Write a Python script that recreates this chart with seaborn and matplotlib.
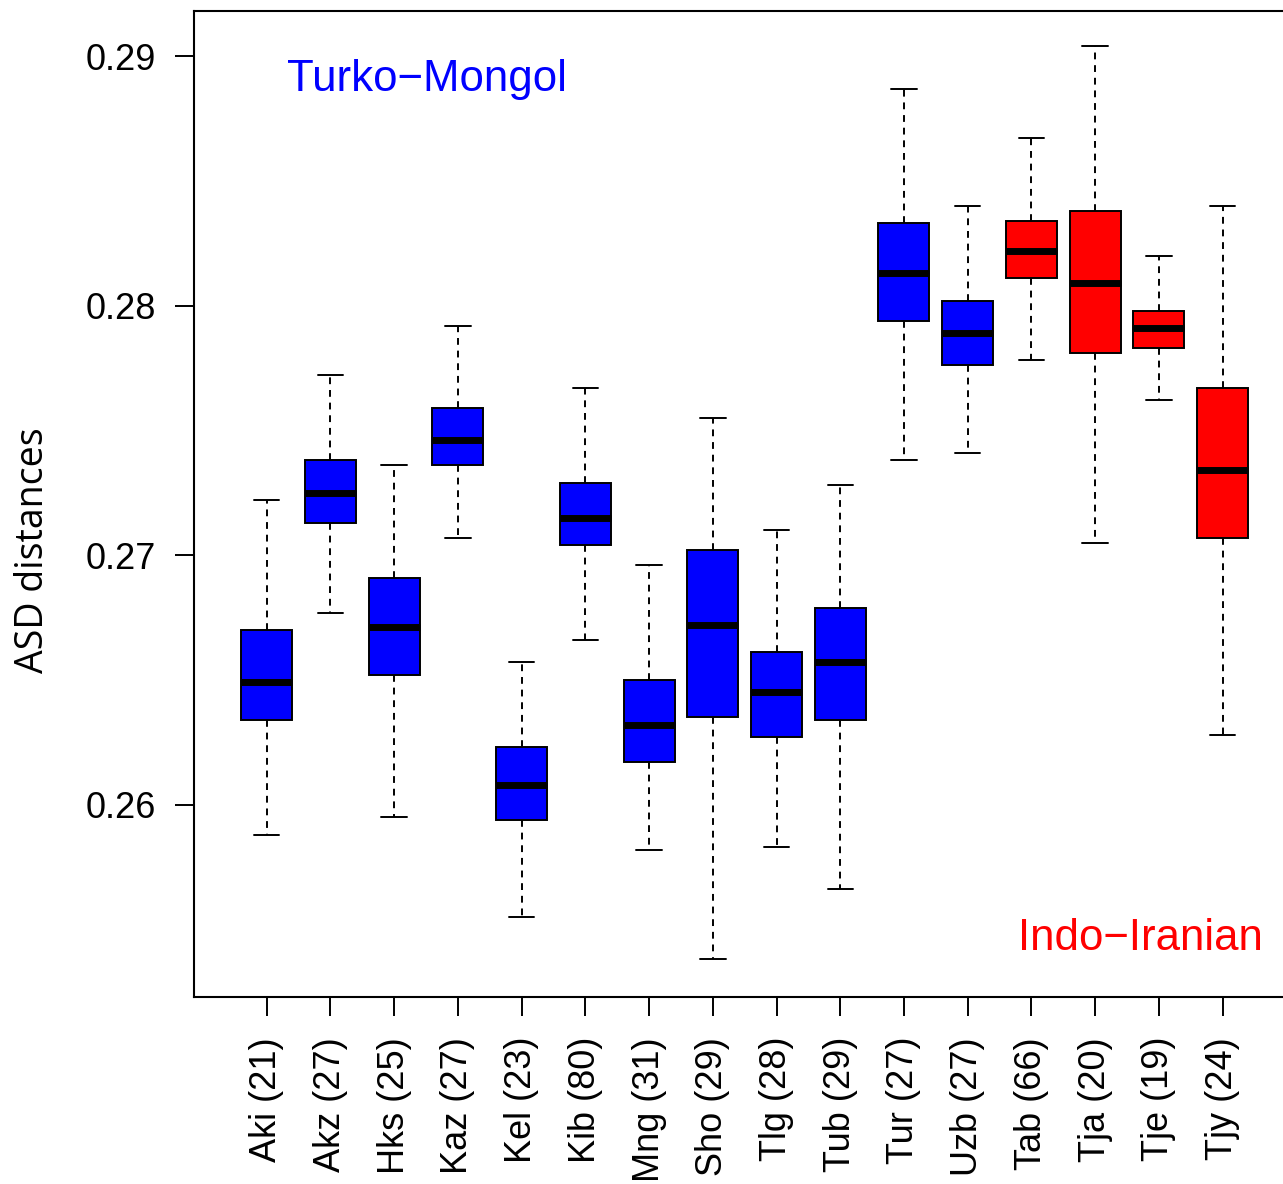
import numpy as np
import pandas as pd
import seaborn as sns
import matplotlib.pyplot as plt

# --- Summary values (one box per population) ---
groups = ["Aki", "Akz", "Hks", "Kaz", "Kel", "Kib", "Mng", "Sho",
          "Tlg", "Tub", "Tur", "Uzb", "Tab", "Tja", "Tje", "Tjy"]
counts = [21, 27, 25, 27, 23, 80, 31, 29, 28, 29, 27, 27, 66, 20, 19, 24]
family = ["Turko-Mongol"] * 12 + ["Indo-Iranian"] * 4

whisker_low = [0.2588, 0.2677, 0.2595, 0.2707, 0.2555, 0.2666, 0.2582, 0.2538,
               0.2583, 0.2566, 0.2738, 0.2741, 0.2778, 0.2705, 0.2762, 0.2628]
q1 = [0.2634, 0.2713, 0.2652, 0.2736, 0.2594, 0.2704, 0.2617, 0.2635,
      0.2627, 0.2634, 0.2794, 0.2776, 0.2811, 0.2781, 0.2783, 0.2707]
median = [0.2649, 0.2725, 0.2671, 0.2746, 0.2608, 0.2715, 0.2632, 0.2672,
          0.2645, 0.2657, 0.2813, 0.2789, 0.2822, 0.2809, 0.2791, 0.2734]
q3 = [0.2670, 0.2738, 0.2691, 0.2759, 0.2623, 0.2729, 0.2650, 0.2702,
      0.2661, 0.2679, 0.2833, 0.2802, 0.2834, 0.2838, 0.2798, 0.2767]
whisker_high = [0.2722, 0.2772, 0.2736, 0.2792, 0.2657, 0.2767, 0.2696, 0.2755,
                0.2710, 0.2728, 0.2887, 0.2840, 0.2867, 0.2904, 0.2820, 0.2840]

y_ticks = [0.26, 0.27, 0.28, 0.29]
y_tick_labels = ["0.26", "0.27", "0.28", "0.29"]
palette = {"Turko-Mongol": "#0000FF", "Indo-Iranian": "#FF0000"}

# five points per group reproduce min / q1 / median / q3 / max exactly
rows = []
for i, g in enumerate(groups):
    label = f"{g} ({counts[i]})"
    for v in (whisker_low[i], q1[i], median[i], q3[i], whisker_high[i]):
        rows.append({"pop": label, "dist": v, "family": family[i]})
df = pd.DataFrame(rows)

sns.set_style("ticks")
plt.rcParams["font.family"] = ["Liberation Sans", "DejaVu Sans"]
plt.rcParams.update({"text.color": "black", "axes.labelcolor": "black",
                     "xtick.color": "black", "ytick.color": "black"})

fig = plt.figure(figsize=(12.83, 11.84), dpi=100)
ax = fig.add_axes([0.1512, 0.1579, 0.8584, 0.8331])

sns.boxplot(
    data=df, x="pop", y="dist", hue="family", palette=palette,
    dodge=False, saturation=1, width=0.8, whis=(0, 100),
    showfliers=False, linecolor="black", linewidth=1.4, legend=False,
    medianprops=dict(linewidth=5, color="black"),
    whiskerprops=dict(linestyle=(0, (3.5, 3)), linewidth=1.4),
    capprops=dict(linewidth=1.4),
    ax=ax,
)

ax.set_xlim(-1.14, 16.14)
ax.set_ylim(0.25229, 0.29182)
ax.set_yticks(y_ticks)
ax.set_yticklabels(y_tick_labels)
ax.tick_params(axis="both", labelsize=26, length=13.7, width=1.4,
               color="black", labelcolor="black")
ax.tick_params(axis="x", labelrotation=90, pad=15)
ax.tick_params(axis="y", pad=13.5)
for sp in ax.spines.values():
    sp.set_linewidth(1.5)
    sp.set_color("black")

ax.set_xlabel("")
ax.set_ylabel("ASD distances", fontsize=27, family=["Open Sans", "DejaVu Sans"],
              va="center", color="black")
ax.yaxis.set_label_coords(-0.1465, 0.453)

ax.text(0.314, 0.2886, "Turko\u2212Mongol", color="#0000FF", fontsize=31.5,
        ha="left", va="baseline")
ax.text(15.63, 0.25419, "Indo\u2212Iranian", color="#FF0000", fontsize=31.5,
        ha="right", va="baseline")

fig.savefig("out.png", dpi=100)
